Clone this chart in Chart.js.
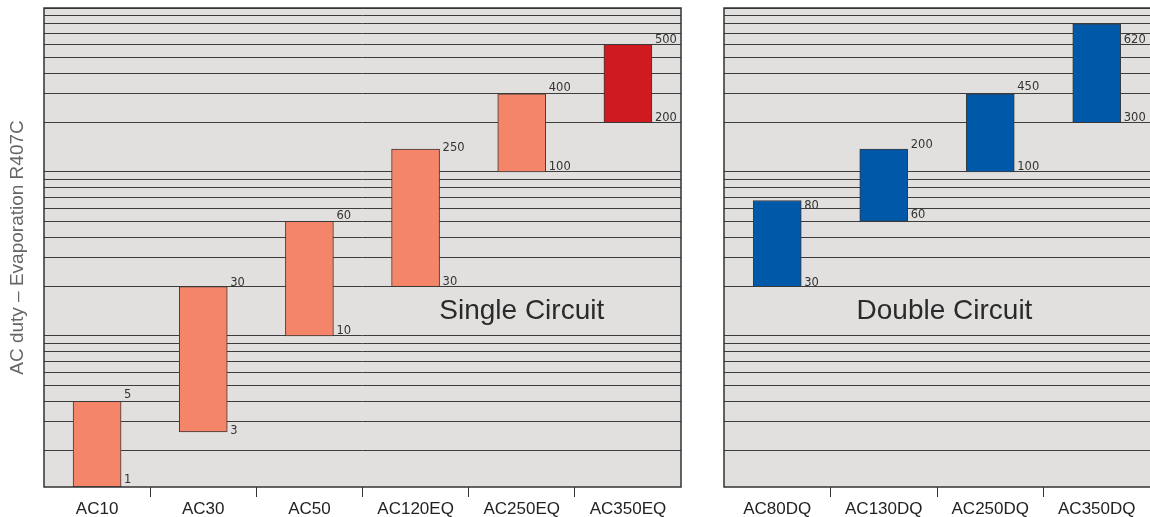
<!DOCTYPE html>
<html>
<head>
<meta charset="utf-8">
<script src="https://cdn.jsdelivr.net/npm/chart.js@4.4.1/dist/chart.umd.min.js"></script>
<style>
  body { margin: 0; background: #fff; }
  #single { position: absolute; left: 0; top: 0; }
  #double { position: absolute; left: 690px; top: 0; }
</style>
</head>
<body>
<canvas id="single" width="690" height="517"></canvas>
<canvas id="double" width="460" height="517"></canvas>
<script>
// models and duty ranges (bar ends read against the log grid)
const singleModels = ['AC10', 'AC30', 'AC50', 'AC120EQ', 'AC250EQ', 'AC350EQ'];
const singleRanges = [[1.2, 4], [2.6, 20], [10, 50], [20, 138], [100, 300], [200, 600]];
const singleLabels = [['1', '5'], ['3', '30'], ['10', '60'], ['30', '250'], ['100', '400'], ['200', '500']];

const doubleModels = ['AC80DQ', 'AC130DQ', 'AC250DQ', 'AC350DQ'];
const doubleRanges = [[20, 67], [50, 138], [100, 300], [200, 800]];
const doubleLabels = [['30', '80'], ['60', '200'], ['100', '450'], ['300', '620']];

// log grid lines
const gridTicks = [2, 3, 4, 5, 6, 7, 8, 9, 10, 20, 30, 40, 50, 60, 70, 80, 90,
                   100, 200, 300, 400, 500, 600, 700, 800, 900, 1000];

const FONT = "'Liberation Sans', Arial, sans-serif";
const SALMON = '#f58568';
const RED = '#cf1b20';
const BLUE = '#0058a8';

function panelPlugin(texts, topDy, bottomDy, caption, captionAt, closed) {
    return {
        id: 'panel',
        beforeDraw(chart) {
            const {ctx, chartArea: a} = chart;
            ctx.save();
            ctx.fillStyle = '#e1e0de';
            ctx.fillRect(a.left, a.top, a.right - a.left, a.bottom - a.top);
            ctx.restore();
        },
        afterDatasetsDraw(chart) {
            const {ctx, chartArea: a, scales} = chart;
            const meta = chart.getDatasetMeta(0);
            ctx.save();
            ctx.font = "11.5px 'DejaVu Sans', sans-serif";
            ctx.fillStyle = '#333';
            ctx.textAlign = 'left';
            ctx.textBaseline = 'alphabetic';
            meta.data.forEach((bar, i) => {
                const tx = bar.x + bar.width / 2 + 3;
                ctx.fillText(texts[i][1], tx, bar.y + topDy[i]);
                ctx.fillText(texts[i][0], tx, bar.base + bottomDy[i]);
            });

            ctx.font = '28px ' + FONT;
            ctx.fillStyle = '#2a2a2a';
            ctx.textAlign = 'center';
            ctx.textBaseline = 'middle';
            const cy = (scales.y.getPixelForValue(10) + scales.y.getPixelForValue(20)) / 2;
            ctx.fillText(caption, scales.x.getPixelForValue(captionAt), cy);

            ctx.strokeStyle = '#333';
            ctx.lineWidth = 1.5;
            ctx.beginPath();
            ctx.moveTo(a.right, a.top);
            ctx.lineTo(a.left, a.top);
            ctx.lineTo(a.left, a.bottom);
            ctx.lineTo(a.right, a.bottom);
            if (closed) ctx.closePath();
            ctx.stroke();
            ctx.restore();
        }
    };
}

function makeChart(id, models, ranges, colors, yWidth, rightPad, title, plugin) {
    const canvas = document.getElementById(id);
    return new Chart(canvas.getContext('2d'), {
        type: 'bar',
        data: {
            labels: models,
            datasets: [{
                data: ranges,
                backgroundColor: colors,
                borderColor: '#3a3a3a',
                borderWidth: 1,
                borderSkipped: false,
                barThickness: 48
            }]
        },
        options: {
            responsive: false,
            animation: false,
            layout: { padding: { top: 8, right: rightPad, left: 0, bottom: 0 } },
            plugins: { legend: { display: false }, tooltip: { enabled: false } },
            scales: {
                x: {
                    offset: true,
                    grid: {
                        offset: true,
                        drawOnChartArea: false,
                        tickLength: 10,
                        lineWidth: 1,
                        color: c => (c.type !== 'tick' || c.index === 0) ? 'rgba(0,0,0,0)' : '#333'
                    },
                    border: { display: false },
                    ticks: {
                        color: '#222',
                        font: { family: FONT, size: 17 },
                        padding: 2,
                        maxRotation: 0,
                        autoSkip: false
                    },
                    afterFit: s => { s.height = 30; }
                },
                y: {
                    type: 'logarithmic',
                    min: 1.2,
                    max: 1000,
                    afterBuildTicks: s => { s.ticks = gridTicks.map(v => ({ value: v })); },
                    ticks: { display: false },
                    grid: { color: '#3c3c3c', lineWidth: 1, drawTicks: false, tickLength: 0 },
                    border: { display: false },
                    title: {
                        display: !!title,
                        text: title,
                        color: '#666',
                        font: { family: FONT, size: 19 },
                        padding: { top: 6, bottom: 0 }
                    },
                    afterFit: s => { s.width = yWidth; }
                }
            }
        },
        plugins: [plugin]
    });
}

makeChart('single', singleModels, singleRanges,
    [SALMON, SALMON, SALMON, SALMON, SALMON, RED], 44, 9,
    'AC duty \u2013 Evaporation R407C',
    panelPlugin(singleLabels, [-3, -1, -2, 2, -3, -1], [-4, 2, -2, -2, -2, -2],
        'Single Circuit', 4.0, true));

makeChart('double', doubleModels, doubleRanges,
    [BLUE, BLUE, BLUE, BLUE], 34, 0, '',
    panelPlugin(doubleLabels, [8, -1, -4, 19], [-1, -3, -2, -2],
        'Double Circuit', 1.57, false));
</script>
</body>
</html>
